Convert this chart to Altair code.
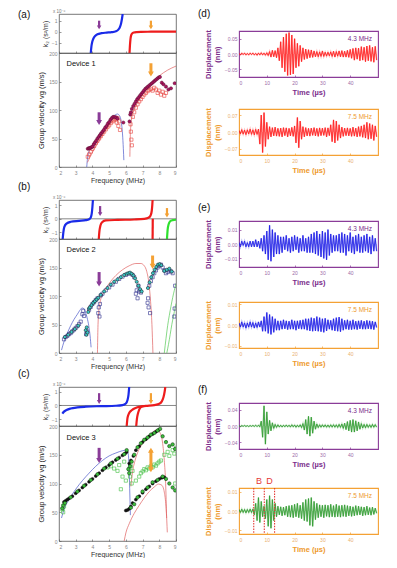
import altair as alt
import pandas as pd

FONT = "Liberation Sans"
PURPLE = "#8A3C98"
PURPLE_TXT = "#7B2D8B"
PURPLE_LBL = "#9C6BA8"
ORANGE = "#F4A134"
ORANGE_TXT = "#EE9A2E"
ORANGE_LBL = "#E9B071"
K_BLUE = "#1A2BE8"
K_RED = "#EE1C1C"
K_GREEN = "#2EE02E"
T_BLUE = "#4B57C8"
T_RED = "#E06060"
T_GREEN = "#55C855"
AX = "#555555"

F_DOM = [2, 9]
F_TICKS = [2, 3, 4, 5, 6, 7, 8, 9]
V_DOM = [0, 200]
T_DOM = [0, 50]

# ---------------- (a) Device 1 ----------------
a_k_blue_f = [3.90, 3.94, 3.99, 4.06, 4.16, 4.30, 4.55, 4.85, 5.15, 5.40, 5.55, 5.65, 5.72, 5.77, 5.81]
a_k_blue_k = [-1.9, -1.3, -0.9, -0.6, -0.38, -0.22, -0.12, -0.07, -0.03, 0.05, 0.2, 0.45, 0.8, 1.2, 1.6]
a_k_red_f = [6.22, 6.25, 6.28, 6.32, 6.38, 6.48, 6.65, 6.90, 7.50, 8.20, 9.00]
a_k_red_k = [-1.9, -1.1, -0.6, -0.3, -0.14, -0.06, -0.02, 0.0, 0.01, 0.02, 0.02]

a_fill_f = [3.72, 3.78, 3.84, 3.90, 3.96, 4.02, 4.08, 4.15, 4.22, 4.30, 4.38, 4.45, 4.52, 4.60, 4.68,
            4.76, 4.84, 4.92, 5.00, 5.08, 5.16, 5.24, 5.32, 5.42, 5.50, 5.85, 6.22, 6.26, 6.30, 6.36,
            6.44, 6.52, 6.60, 6.68, 6.76, 6.84, 6.92, 7.00, 7.08, 7.16, 7.24, 7.32, 7.40, 7.48, 7.56,
            7.64, 7.72, 7.80, 7.88, 7.96, 8.04, 8.15, 8.25, 8.40, 8.55, 8.70, 8.92]
a_fill_v = [32, 33, 33, 34, 35, 36, 40, 43, 46, 50, 53, 56, 59, 62, 65,
            69, 72, 76, 79, 83, 86, 88, 88, 87, 85, 78, 80, 92, 96, 102,
            107, 111, 115, 119, 122, 125, 128, 131, 134, 137, 139, 141, 143, 145, 147,
            149, 151, 153, 155, 157, 158, 148, 145, 141, 136, 138, 147]
a_sq_f = [3.72, 3.80, 3.90, 4.00, 4.10, 4.20, 4.30, 4.40, 4.50, 4.60, 4.70, 4.80, 4.90, 5.00, 5.10, 5.20, 5.30,
          5.40, 5.45, 5.50, 5.55, 5.60, 5.65, 6.28, 6.30, 6.33, 6.36, 6.42, 6.50,
          6.60, 6.70, 6.80, 6.90, 7.00, 7.10, 7.20, 7.30, 7.40, 7.50, 7.60, 7.70, 7.80, 7.90, 8.00, 8.10, 8.20, 8.30, 8.40]
a_sq_v = [18, 22, 27, 32, 37, 42, 46, 50, 54, 58, 62, 66, 70, 73, 77, 80, 82,
          84, 78, 86, 72, 80, 65, 75, 62, 48, 38, 88, 96,
          104, 110, 115, 119, 123, 127, 130, 133, 135, 137, 134, 139, 136, 130, 134, 127, 132, 125, 130]
a_blue_f = [3.66, 3.70, 3.76, 3.85, 4.00, 4.30, 4.60, 4.90, 5.15, 5.35, 5.50, 5.62, 5.72, 5.80, 5.85, 5.88]
a_blue_v = [0, 14, 24, 31, 38, 51, 64, 76, 85, 91, 93, 90, 80, 58, 32, 12]
a_red1_f = [3.70, 3.90, 4.20, 4.50, 4.80, 5.10, 5.30, 5.45, 5.55]
a_red1_v = [8, 20, 36, 51, 65, 77, 83, 85, 83]
a_red2_f = [6.24, 6.26, 6.29, 6.33, 6.40, 6.55, 6.80, 7.10, 7.50, 8.00, 8.50, 9.00]
a_red2_v = [18, 50, 70, 82, 92, 104, 118, 133, 147, 160, 170, 177]

# ---------------- (b) Device 2 ----------------
b_k_blue_f = [2.22, 2.26, 2.32, 2.45, 2.70, 3.20, 3.60, 3.80, 3.90, 3.96, 4.00, 4.03]
b_k_blue_k = [-1.5, -1.0, -0.6, -0.35, -0.22, -0.15, -0.10, -0.03, 0.1, 0.4, 0.9, 1.4]
b_k_red_f = [4.38, 4.42, 4.48, 4.58, 4.80, 5.50, 6.50, 7.10, 7.35, 7.48, 7.55, 7.58, 7.60]
b_k_red_k = [-1.5, -0.9, -0.5, -0.25, -0.12, -0.08, -0.05, 0.0, 0.08, 0.25, 0.6, 1.0, 1.4]
b_k_red2_f = [7.60, 7.61]
b_k_red2_k = [-1.5, 0.0]
b_k_grn_f = [8.46, 8.50, 8.56, 8.65, 8.80, 9.00]
b_k_grn_k = [-1.5, -0.8, -0.4, -0.18, -0.10, -0.07]

b_sq_f = [2.30, 2.40, 2.50, 2.60, 2.70, 2.80, 2.90, 3.00, 3.10, 3.20, 3.30,
          3.40, 3.45, 3.50, 3.62, 3.68, 3.80, 3.90, 4.00, 4.10, 4.20, 4.30,
          4.35, 4.38, 4.42, 4.45, 4.50, 4.60, 4.80, 5.00, 5.20, 5.40, 5.60, 5.80, 6.00, 6.20, 6.40, 6.50,
          6.60, 6.65, 6.70, 6.75, 6.80, 6.90, 7.30, 7.33, 7.36, 7.40, 7.45, 7.50,
          7.60, 7.70, 7.80, 7.90, 8.00, 8.10, 8.20, 8.30, 8.40, 8.50, 8.60, 8.70, 8.80, 8.90, 8.92, 8.95]
b_sq_v = [24, 28, 30, 33, 35, 38, 41, 44, 47, 51, 55,
          68, 74, 65, 33, 38, 76, 81, 86, 89, 93, 96,
          70, 80, 64, 86, 101, 104, 110, 115, 120, 125, 130, 134, 137, 139, 137, 133,
          104, 110, 96, 118, 108, 106, 88, 96, 80, 118, 70, 126,
          133, 140, 145, 150, 153, 155, 150, 145, 140, 142, 145, 143, 140, 64, 78, 118]
b_cy_f = [2.35, 2.55, 2.75, 2.95, 3.15, 3.60, 3.64, 3.66, 3.70, 3.75, 3.80, 3.85, 3.95, 4.05, 4.15,
          4.25, 4.35, 4.50, 4.70, 4.90, 5.10, 5.30, 5.50, 5.70, 5.90, 6.05, 6.15, 6.25, 6.35, 6.45,
          6.55, 6.65, 6.75, 6.85, 6.95, 7.32, 7.42, 7.52, 7.62, 7.72, 7.82, 7.92, 8.02, 8.12, 8.30,
          8.45, 8.60, 8.75]
b_cy_v = [28, 32, 37, 42, 48, 40, 32, 45, 36, 72, 78, 80, 84, 88, 91,
          94, 97, 102, 108, 114, 120, 125, 129, 133, 137, 139, 140, 141, 139, 136,
          131, 125, 118, 112, 108, 114, 124, 133, 140, 146, 151, 155, 156, 154, 144,
          146, 148, 143]
b_blue_f = [2.15, 2.30, 2.50, 2.70, 2.90, 3.10, 3.25, 3.38, 3.48, 3.58, 3.68, 3.78, 3.86, 3.92]
b_blue_v = [5, 20, 35, 48, 59, 68, 75, 79, 78, 72, 62, 48, 30, 10]
b_red_f = [4.30, 4.33, 4.37, 4.45, 4.65, 5.00, 5.40, 5.80, 6.20, 6.60, 6.90, 7.10, 7.25, 7.38, 7.48, 7.56, 7.62]
b_red_v = [0, 45, 70, 88, 105, 122, 136, 146, 153, 157, 157, 153, 143, 122, 90, 50, 0]
b_grn1_f = [8.30, 8.40, 8.50, 8.60, 8.70, 8.80, 8.90, 9.00]
b_grn1_v = [0, 25, 48, 66, 82, 97, 110, 122]
b_grn2_f = [8.45, 8.55, 8.65, 8.75, 8.85, 8.95, 9.00]
b_grn2_v = [0, 15, 32, 50, 65, 80, 87]

# ---------------- (c) Device 3 ----------------
c_k_blue_f = [2.20, 2.30, 2.45, 2.70, 3.10, 3.60, 4.50, 5.40, 5.80, 6.00, 6.10, 6.16, 6.20]
c_k_blue_k = [-0.6, -0.45, -0.33, -0.22, -0.14, -0.09, -0.05, -0.02, 0.03, 0.15, 0.4, 0.8, 1.35]
c_k_red1_f = [6.05, 6.10, 6.20, 6.35, 6.55, 6.80, 7.20, 7.70, 8.00, 8.15, 8.25, 8.32, 8.36]
c_k_red1_k = [-1.5, -0.9, -0.55, -0.35, -0.2, -0.1, -0.03, 0.03, 0.12, 0.3, 0.6, 1.0, 1.35]
c_k_red2_f = [6.62, 6.66, 6.72, 6.80, 6.90, 7.05]
c_k_red2_k = [-1.5, -1.0, -0.6, -0.3, -0.12, -0.05]

c_blk_f = [2.3, 2.4, 2.5, 2.6, 2.8, 3.0, 3.2, 3.4, 3.6, 3.8, 4.0, 4.2, 4.4, 4.6, 4.8,
           5.0, 5.2, 5.4, 5.6, 5.8, 5.95, 6.05, 6.0, 6.1, 6.2, 6.3, 6.4, 6.6, 6.8, 7.0,
           7.2, 7.4, 7.6, 7.8, 8.0, 8.15, 8.3, 6.2, 6.3, 6.45, 6.6, 6.8, 7.0, 7.2, 7.4,
           7.6, 7.8, 7.95]
c_blk_v = [68, 70, 72, 74, 78, 83, 88, 93, 98, 103, 108, 113, 118, 123, 128,
           132, 137, 141, 145, 149, 152, 155, 53, 54, 56, 60, 66, 72, 78, 84,
           90, 95, 100, 104, 108, 110, 111, 135, 140, 148, 158, 165, 172, 177, 182,
           186, 190, 193]
c_grn_f = [2.2, 2.25, 2.35, 2.7, 3.1, 3.5, 3.9, 4.3, 4.7, 5.1, 5.5, 5.9, 6.05, 6.15, 6.2,
           6.25, 6.35, 6.5, 6.7, 6.9, 7.1, 7.3, 7.5, 7.7, 7.9, 8.05, 8.2, 8.4, 8.6, 8.8,
           8.95, 6.3, 6.5, 6.7, 7.0, 7.3, 7.6, 7.9, 8.2, 8.4, 8.6, 8.8, 8.95]
c_grn_v = [57, 62, 66, 76, 86, 96, 106, 116, 126, 135, 143, 151, 158, 125, 118,
           130, 138, 150, 163, 170, 176, 180, 185, 188, 192, 195, 182, 172, 165, 168,
           160, 58, 64, 76, 86, 93, 102, 106, 112, 108, 100, 93, 88]
c_sq_f = [2.2, 2.25, 2.3, 4.9, 5.1, 5.3, 5.5, 5.6, 5.7, 5.8, 5.9, 6.0, 6.2, 6.25, 6.3,
          6.35, 6.4, 6.9, 7.0, 7.1, 7.2, 7.3, 7.4, 7.5, 7.6, 7.7, 7.8, 7.9, 8.0, 8.1,
          8.3, 8.5, 8.6, 8.8, 8.9, 9.0, 8.95, 6.6, 6.8]
c_sq_v = [55, 50, 60, 128, 130, 126, 122, 132, 90, 112, 138, 105, 125, 112, 130,
          100, 122, 118, 121, 125, 123, 128, 126, 130, 128, 133, 131, 135, 138, 140,
          150, 155, 148, 158, 152, 162, 100, 105, 112]
c_blue_f = [2.15, 2.30, 2.60, 3.00, 3.40, 3.80, 4.20, 4.60, 5.00, 5.40, 5.80, 6.05, 6.15, 6.20, 6.24, 6.27]
c_blue_v = [40, 55, 72, 90, 105, 118, 130, 140, 148, 153, 157, 158, 150, 120, 80, 45]
c_red1_f = [6.30, 6.40, 6.55, 6.75, 7.00, 7.30, 7.60, 7.85, 8.05, 8.20, 8.30, 8.38, 8.44]
c_red1_v = [95, 120, 140, 157, 170, 181, 189, 193, 188, 170, 140, 100, 40]
c_red2_f = [5.90, 6.00, 6.20, 6.50, 6.80, 7.10, 7.40, 7.70, 7.95, 8.15, 8.30, 8.40, 8.45, 8.48]
c_red2_v = [0, 14, 30, 48, 62, 75, 86, 94, 99, 97, 85, 60, 35, 15]

# ---------------- waveforms (0.5 us sampling) ----------------
TIME = [i * 0.5 for i in range(100)]
d1 = [0.002, -0.003, 0.003, -0.002, 0.003, -0.003, 0.002, -0.003, 0.003, -0.002,
      0.003, -0.003, 0.002, -0.004, 0.003, -0.003, 0.004, -0.003, 0.003, -0.004,
      0.004, -0.005, 0.008, -0.01, 0.012, -0.009, 0.011, -0.012, 0.02, -0.022,
      0.04, -0.045, 0.055, -0.058, 0.066, -0.07, 0.07, -0.068, 0.062, -0.065,
      0.05, -0.045, 0.035, -0.04, 0.028, -0.025, 0.02, -0.018, 0.016, -0.015,
      0.014, -0.012, 0.013, -0.011, 0.01, -0.009, 0.008, -0.009, 0.007, -0.008,
      0.01, -0.008, 0.006, -0.007, 0.006, -0.006, 0.007, -0.008, 0.009, -0.01,
      0.008, -0.007, 0.01, -0.009, 0.011, -0.01, 0.009, -0.01, 0.012, -0.011,
      0.015, -0.014, 0.018, -0.02, 0.02, -0.017, 0.019, -0.022, 0.024, -0.02,
      0.022, -0.025, 0.026, -0.022, 0.028, -0.024, 0.022, -0.027, 0.025, -0.02]
d2 = [0.006, -0.008, 0.01, -0.009, 0.008, -0.011, 0.009, -0.008, 0.012, -0.01,
      0.009, -0.012, 0.011, -0.01, 0.012, -0.05, 0.07, -0.085, 0.08, -0.06,
      0.04, -0.03, 0.022, -0.02, 0.018, -0.016, 0.02, -0.017, 0.015, -0.018,
      0.016, -0.02, 0.018, -0.015, 0.017, -0.02, 0.015, -0.016, 0.019, -0.018,
      0.025, -0.045, 0.06, -0.065, 0.045, -0.03, 0.022, -0.02, 0.018, -0.016,
      0.015, -0.017, 0.016, -0.014, 0.018, -0.016, 0.015, -0.018, 0.017, -0.015,
      0.016, -0.014, 0.018, -0.02, 0.017, -0.015, 0.03, -0.04, 0.05, -0.045,
      0.045, -0.035, 0.03, -0.025, 0.02, -0.018, 0.016, -0.015, 0.017, -0.016,
      0.015, -0.018, 0.02, -0.017, 0.016, -0.02, 0.022, -0.018, 0.025, -0.022,
      0.03, -0.025, 0.04, -0.03, 0.035, -0.028, 0.03, -0.035, 0.025, -0.02]
e1 = [0.001, -0.002, 0.002, -0.001, 0.002, -0.002, 0.001, -0.002, 0.002, -0.002,
      0.002, -0.002, 0.003, -0.002, 0.002, -0.003, 0.004, -0.005, 0.006, -0.007,
      0.009, -0.011, 0.013, -0.012, 0.01, -0.009, 0.008, -0.007, 0.006, -0.007,
      0.005, -0.006, 0.005, -0.004, 0.006, -0.005, 0.004, -0.006, 0.005, -0.005,
      0.006, -0.004, 0.005, -0.006, 0.004, -0.005, 0.006, -0.005, 0.004, -0.006,
      0.005, -0.006, 0.007, -0.006, 0.008, -0.007, 0.009, -0.008, 0.007, -0.009,
      0.009, -0.01, 0.008, -0.011, 0.01, -0.008, 0.007, -0.006, 0.006, -0.005,
      0.006, -0.005, 0.007, -0.006, 0.008, -0.006, 0.007, -0.008, 0.006, -0.005,
      0.008, -0.006, 0.005, -0.007, 0.006, -0.005, 0.007, -0.006, 0.005, -0.006,
      0.006, -0.005, 0.007, -0.006, 0.005, -0.007, 0.006, -0.005, 0.004, -0.005]
e2 = [0.001, -0.001, 0.0015, -0.001, 0.001, -0.0015, 0.001, -0.001, 0.0015, -0.001,
      0.0012, -0.0015, 0.001, -0.0012, 0.0015, -0.001, 0.002, -0.003, 0.004, -0.003,
      0.006, -0.004, 0.005, -0.0045, 0.004, -0.0035, 0.003, -0.0025, 0.002, -0.0025,
      0.002, -0.002, 0.0025, -0.0018, 0.002, -0.0022, 0.0018, -0.002, 0.0025, -0.002,
      0.002, -0.0025, 0.002, -0.0018, 0.0022, -0.002, 0.0025, -0.002, 0.003, -0.0025,
      0.003, -0.0028, 0.0035, -0.003, 0.0032, -0.0028, 0.004, -0.003, 0.0035, -0.0032,
      0.003, -0.0035, 0.0032, -0.0028, 0.0025, -0.002, 0.0022, -0.0025, 0.003, -0.0028,
      0.0035, -0.003, 0.0038, -0.0032, 0.003, -0.0025, 0.0022, -0.002, 0.0025, -0.0022,
      0.002, -0.0022, 0.0025, -0.002, 0.0018, -0.0022, 0.002, -0.0018, 0.0022, -0.002,
      0.0018, -0.002, 0.0022, -0.0018, 0.002, -0.002, 0.0018, -0.0022, 0.0015, -0.0012]
f1 = [0.001, -0.0015, 0.0012, -0.001, 0.0015, -0.0012, 0.001, -0.0015, 0.0012, -0.001,
      0.0015, -0.0012, 0.002, -0.0015, 0.002, -0.002, 0.012, -0.028, 0.05, -0.045,
      0.035, -0.02, 0.014, -0.012, 0.008, -0.006, 0.004, -0.0035, 0.003, -0.0025,
      0.002, -0.0025, 0.002, -0.002, 0.0025, -0.002, 0.002, -0.0025, 0.003, -0.002,
      0.0025, -0.003, 0.002, -0.0025, 0.003, -0.004, 0.006, -0.01, 0.016, -0.02,
      0.024, -0.025, 0.022, -0.018, 0.012, -0.008, 0.005, -0.004, 0.003, -0.003,
      0.003, -0.0025, 0.0028, -0.003, 0.0025, -0.003, 0.003, -0.0028, 0.0032, -0.003,
      0.003, -0.0035, 0.004, -0.0035, 0.005, -0.006, 0.007, -0.009, 0.011, -0.012,
      0.014, -0.015, 0.016, -0.015, 0.013, -0.012, 0.01, -0.008, 0.006, -0.005,
      0.004, -0.0045, 0.004, -0.0035, 0.003, -0.0035, 0.004, -0.003, 0.0035, -0.003]
f2 = [0.0008, -0.0008, 0.001, -0.0008, 0.0008, -0.001, 0.0008, -0.0008, 0.001, -0.0008,
      0.001, -0.002, 0.004, -0.005, 0.007, -0.006, 0.005, -0.003, 0.0025, -0.004,
      0.006, -0.008, 0.008, -0.009, 0.006, -0.005, 0.004, -0.003, 0.0025, -0.002,
      0.0022, -0.0025, 0.002, -0.0022, 0.0025, -0.003, 0.0028, -0.0032, 0.003, -0.0035,
      0.0035, -0.003, 0.004, -0.0035, 0.003, -0.004, 0.0045, -0.005, 0.006, -0.0055,
      0.0065, -0.0075, 0.007, -0.008, 0.005, -0.0045, 0.004, -0.0035, 0.0032, -0.003,
      0.003, -0.0035, 0.0032, -0.0028, 0.003, -0.0032, 0.0035, -0.003, 0.0028, -0.0032,
      0.0035, -0.003, 0.0028, -0.0032, 0.003, -0.0028, 0.0032, -0.003, 0.0028, -0.0025,
      0.0025, -0.0028, 0.0022, -0.0025, 0.0028, -0.0022, 0.0025, -0.002, 0.0022, -0.0025,
      0.002, -0.0022, 0.0025, -0.002, 0.0018, -0.0022, 0.002, -0.0018, 0.0015, -0.0012]
f2_marker_t = [5.3, 9.1, 12.8]
f2_marker_lbl_t = [7.2, 11.0]
f2_marker_lbl = ["B", "D"]

LW, TOPH, BOTH = 117, 39, 114
RW, RH = 139, 46


def df(xs, ys):
    return pd.DataFrame({"x": xs, "y": ys})


# ---- axis definitions (repeated in every layer so the merged axis is kept) ----
K_XAX = alt.Axis(values=F_TICKS, labels=False, title=None, tickSize=2, offset=-2,
                 domain=False, tickColor=AX, tickWidth=0.6, grid=False)


def k_yax():
    return alt.Axis(values=[-1, 0, 1], format="d", title="k₂ (s²/m)", titleFontSize=7,
                    titleFontWeight="normal", titleColor="#333", labelFontSize=5,
                    labelColor="#888", tickSize=2, offset=-2, domain=False,
                    labelPadding=2, titlePadding=3, tickColor=AX, tickWidth=0.6, grid=False)


V_XAX = alt.Axis(values=F_TICKS, format="d", title="Frequency (MHz)", titleFontSize=7,
                 titleFontWeight="normal", titleColor="#333", labelFontSize=5,
                 labelColor="#888", tickSize=2, offset=-2, domain=False,
                 labelPadding=3, titlePadding=1, tickColor=AX, tickWidth=0.6, grid=False)
V_YAX = alt.Axis(values=[0, 50, 100, 150, 200], format="d",
                 title="Group velocity vg (m/s)", titleFontSize=7.5,
                 titleFontWeight="normal", titleColor="#222", labelFontSize=5,
                 labelColor="#888", tickSize=2, offset=-2, domain=False,
                 labelPadding=2, titlePadding=3, tickColor=AX, tickWidth=0.6, grid=False)


def enc(xax, yax, ydom, yfield="y"):
    return dict(
        x=alt.X("x:Q", scale=alt.Scale(domain=F_DOM), axis=xax),
        y=alt.Y(yfield + ":Q", scale=alt.Scale(domain=ydom), axis=yax),
    )


def curve(xs, ys, color, w, ax):
    return alt.Chart(df(xs, ys)).mark_line(
        color=color, strokeWidth=w, clip=True, interpolate="monotone"
    ).encode(**enc(*ax))


def open_sq(xs, ys, color, ax, size=10):
    return alt.Chart(df(xs, ys)).mark_point(
        shape="square", filled=False, color=color, strokeWidth=0.6, size=size, opacity=1, clip=True
    ).encode(**enc(*ax))


def dots(xs, ys, fill, stroke, ax, size=10, sw=0.5):
    return alt.Chart(df(xs, ys)).mark_point(
        shape="circle", filled=True, fill=fill, stroke=stroke, strokeWidth=sw, size=size,
        opacity=1, fillOpacity=1, clip=True
    ).encode(**enc(*ax))


def arrow(x, y_tail, y_head, color, ax, w=2.6, hs=26, double=False):
    a = pd.DataFrame({"x": [x], "y": [y_tail], "y2": [y_head]})
    shaft = alt.Chart(a).mark_rule(color=color, strokeWidth=w).encode(
        **enc(*ax), y2="y2:Q")
    down = y_head < y_tail
    head = alt.Chart(a).mark_point(
        shape="triangle-down" if down else "triangle-up", filled=True, color=color, size=hs, opacity=1
    ).encode(**enc(*ax, yfield="y2"))
    layers = [shaft, head]
    if double:
        tail = alt.Chart(a).mark_point(
            shape="triangle-up" if down else "triangle-down", filled=True, color=color, size=hs, opacity=1
        ).encode(**enc(*ax))
        layers.append(tail)
    return layers


def label(txt, px, py, size=10, color="#111", align="left", weight="normal"):
    return alt.Chart(pd.DataFrame({"t": [txt]})).mark_text(
        fontSize=size, align=align, baseline="middle", color=color, font=FONT, fontWeight=weight
    ).encode(x=alt.value(px), y=alt.value(py), text="t:N")


def spacer(w, h):
    return alt.Chart(pd.DataFrame({"t": [""]})).mark_text(
        opacity=0, fontSize=1, baseline="middle"
    ).encode(x=alt.value(1), y=alt.value(h / 2), text="t:N").properties(
        width=w, height=h, view=alt.ViewBackground(strokeOpacity=0))


def k_panel(series, arrows_spec, ydom, letter, zero_line):
    ax = (K_XAX, k_yax(), ydom)
    zero = alt.Chart(df([2, 9], [0, 0])).mark_line(
        color="#555", strokeWidth=0.7, opacity=1 if zero_line else 0
    ).encode(**enc(*ax))
    layers = [zero]
    for xs, ys, col in series:
        layers.append(curve(xs, ys, col, 2.2, ax))
    for x, y1, y2, col in arrows_spec:
        layers += arrow(x, y1, y2, col, ax, w=2.2, hs=20)
    layers += [
        label(letter, -41, 1 if letter == "(a)" else -13, size=10),
        label("x 10⁻⁶", -6, -2.5, size=4.5, color="#777"),
    ]
    return alt.layer(*layers).properties(width=LW, height=TOPH)


VAX = (V_XAX, V_YAX, V_DOM)


def v_panel(layers_in, device, height=BOTH):
    base = alt.Chart(df([2, 9], [0, 0])).mark_line(opacity=0).encode(**enc(*VAX))
    dev = alt.Chart(df([2.45], [180])).mark_text(
        text=device, align="left", baseline="middle", fontSize=7.5, color="#111", font=FONT
    ).encode(**enc(*VAX))
    return alt.layer(base, *layers_in, dev).properties(width=LW, height=height)


def wave_panel(vals, line_color, frame, txt_color, lbl_color, ydom, yvals, mhz,
               letter=None, letter_y=-13, markers=False):
    data = pd.DataFrame({"t": TIME, "v": vals, "z": [0.0] * len(vals)})
    xax = alt.Axis(values=[0, 10, 20, 30, 40], format="d", title="Time (µs)",
                   titleFontSize=7.5, titleFontWeight="bold", titleColor=txt_color,
                   labelFontSize=5, labelColor=lbl_color, tickSize=2, offset=-2,
                   domain=False, labelPadding=3, titlePadding=3, tickColor=frame,
                   tickWidth=0.7, grid=False)
    yax = alt.Axis(values=yvals, format=".2f", title=["Displacement", "(nm)"],
                   titleFontSize=7.5, titleFontWeight="bold", titleColor=txt_color,
                   titleLineHeight=9, labelFontSize=5, labelColor=lbl_color,
                   tickSize=2, offset=-2, domain=False, labelPadding=2,
                   titlePadding=3, tickColor=frame, tickWidth=0.7, grid=False)
    X = alt.X("t:Q", scale=alt.Scale(domain=T_DOM), axis=xax)
    Y = alt.Y("v:Q", scale=alt.Scale(domain=ydom), axis=yax)
    fill = alt.Chart(data).mark_area(color=line_color, opacity=0.3, clip=True).encode(x=X, y=Y, y2="z:Q")
    halo = alt.Chart(data).mark_line(color=line_color, strokeWidth=1.6, opacity=0.3, clip=True).encode(x=X, y=Y)
    base = alt.Chart(data).mark_line(color=line_color, strokeWidth=0.8, clip=True).encode(x=X, y=Y)
    layers = [fill, halo, base, label(mhz, RW - 6, 8, size=6.5, color=txt_color, align="right")]
    if letter:
        layers.append(label(letter, -41, letter_y, size=10))
    if markers:
        mk = pd.DataFrame({"t": f2_marker_t})
        layers.append(alt.Chart(mk).mark_rule(color="#E53935", strokeWidth=1.1, strokeDash=[1.5, 1.2]).encode(x=X))
        ml = pd.DataFrame({"t": f2_marker_lbl_t, "s": f2_marker_lbl})
        layers.append(alt.Chart(ml).mark_text(fontSize=9, color="#E53935", baseline="middle", font=FONT).encode(
            x=X, y=alt.value(-7), text="s:N"))
    return alt.layer(*layers).properties(
        width=RW, height=RH, view=alt.ViewBackground(stroke=frame, strokeWidth=1.1))


# ---- left column ----
KA = [-1.9, 1.6]
KB = [-1.5, 1.4]
KC = [-1.5, 1.35]

a_top = k_panel(
    [(a_k_blue_f, a_k_blue_k, K_BLUE), (a_k_red_f, a_k_red_k, K_RED)],
    [(4.4, 1.0, 0.4, PURPLE), (7.5, 1.0, 0.4, ORANGE)], KA, "(a)", False)
a_bot = v_panel(
    [curve(a_blue_f, a_blue_v, T_BLUE, 0.7, VAX), curve(a_red1_f, a_red1_v, T_RED, 0.7, VAX),
     curve(a_red2_f, a_red2_v, T_RED, 0.7, VAX),
     open_sq(a_sq_f, a_sq_v, "#E8403A", VAX),
     dots(a_fill_f, a_fill_v, "#A8175E", "#5A0A30", VAX)]
    + arrow(4.4, 96, 78, PURPLE, VAX, w=3, hs=34) + arrow(7.5, 182, 163, ORANGE, VAX, w=3, hs=34),
    "Device 1")

b_top = k_panel(
    [(b_k_blue_f, b_k_blue_k, K_BLUE), (b_k_red_f, b_k_red_k, K_RED),
     (b_k_red2_f, b_k_red2_k, K_RED), (b_k_grn_f, b_k_grn_k, K_GREEN)],
    [(4.46, 0.95, 0.35, PURPLE), (8.46, 0.8, 0.25, ORANGE)], KB, "(b)", True)
b_bot = v_panel(
    [curve(b_blue_f, b_blue_v, T_BLUE, 0.7, VAX), curve(b_red_f, b_red_v, T_RED, 0.7, VAX),
     curve(b_grn1_f, b_grn1_v, T_GREEN, 0.7, VAX), curve(b_grn2_f, b_grn2_v, T_GREEN, 0.7, VAX),
     open_sq(b_sq_f, b_sq_v, "#2A2C8C", VAX),
     dots(b_cy_f, b_cy_v, "#3CC8C8", "#111111", VAX)]
    + arrow(4.4, 142, 121, PURPLE, VAX, w=3, hs=34) + arrow(7.6, 171, 152, ORANGE, VAX, w=3, hs=34),
    "Device 2")

c_top = k_panel(
    [(c_k_blue_f, c_k_blue_k, K_BLUE), (c_k_red1_f, c_k_red1_k, K_RED), (c_k_red2_f, c_k_red2_k, K_RED)],
    [(4.4, 0.9, 0.25, PURPLE), (7.5, 0.9, 0.25, ORANGE)], KC, "(c)", True)
c_bot = v_panel(
    [curve(c_blue_f, c_blue_v, T_BLUE, 0.7, VAX), curve(c_red1_f, c_red1_v, T_RED, 0.7, VAX),
     curve(c_red2_f, c_red2_v, T_RED, 0.7, VAX),
     open_sq(c_sq_f, c_sq_v, "#3DBE3D", VAX),
     dots(c_blk_f, c_blk_v, "#111111", "#111111", VAX, size=9),
     dots(c_grn_f, c_grn_v, "#3DBE3D", "#0A2A0A", VAX, size=12)]
    + arrow(4.4, 162, 140, PURPLE, VAX, w=3, hs=34)
    + arrow(7.5, 158, 124, ORANGE, VAX, w=3, hs=34, double=True),
    "Device 3", height=115)

left = alt.vconcat(
    spacer(LW, 5), a_top, a_bot, spacer(LW, 33), b_top, b_bot, spacer(LW, 34), c_top, c_bot,
    spacing=0, bounds="flush")

# ---- right column ----
d_1 = wave_panel(d1, "#FF1A1A", PURPLE, PURPLE_TXT, PURPLE_LBL, [-0.075, 0.075], [-0.05, 0, 0.05], "4.3 MHz",
                 letter="(d)", letter_y=-17)
d_2 = wave_panel(d2, "#FF1A1A", ORANGE, ORANGE_TXT, ORANGE_LBL, [-0.095, 0.095], [-0.07, 0, 0.07], "7.5 MHz")
e_1 = wave_panel(e1, "#1A1AE6", PURPLE, PURPLE_TXT, PURPLE_LBL, [-0.016, 0.016], [-0.01, 0, 0.01], "4.3 MHz", letter="(e)")
e_2 = wave_panel(e2, "#1A1AE6", ORANGE, ORANGE_TXT, ORANGE_LBL, [-0.011, 0.011], [-0.01, 0, 0.01], "7.5 MHz")
f_1 = wave_panel(f1, "#2E9A2E", PURPLE, PURPLE_TXT, PURPLE_LBL, [-0.057, 0.057], [-0.04, 0, 0.04], "4.3 MHz", letter="(f)")
f_2 = wave_panel(f2, "#2E9A2E", ORANGE, ORANGE_TXT, ORANGE_LBL, [-0.012, 0.012], [-0.01, 0, 0.01], "7.5 MHz", markers=True)

right = alt.vconcat(
    spacer(RW, 22), d_1, spacer(RW, 32), d_2, spacer(RW, 66), e_1, spacer(RW, 35), e_2,
    spacer(RW, 55), f_1, spacer(RW, 39), f_2,
    spacing=0, bounds="flush")

chart = alt.hconcat(left, right, spacing=19).properties(
    padding={"left": 9, "top": 0, "right": 0, "bottom": 0}
).configure(font=FONT).configure_view(stroke=AX, strokeWidth=0.8).configure_axis(grid=False)

chart.save("out.html", embed_options={"renderer": "svg", "actions": False})
